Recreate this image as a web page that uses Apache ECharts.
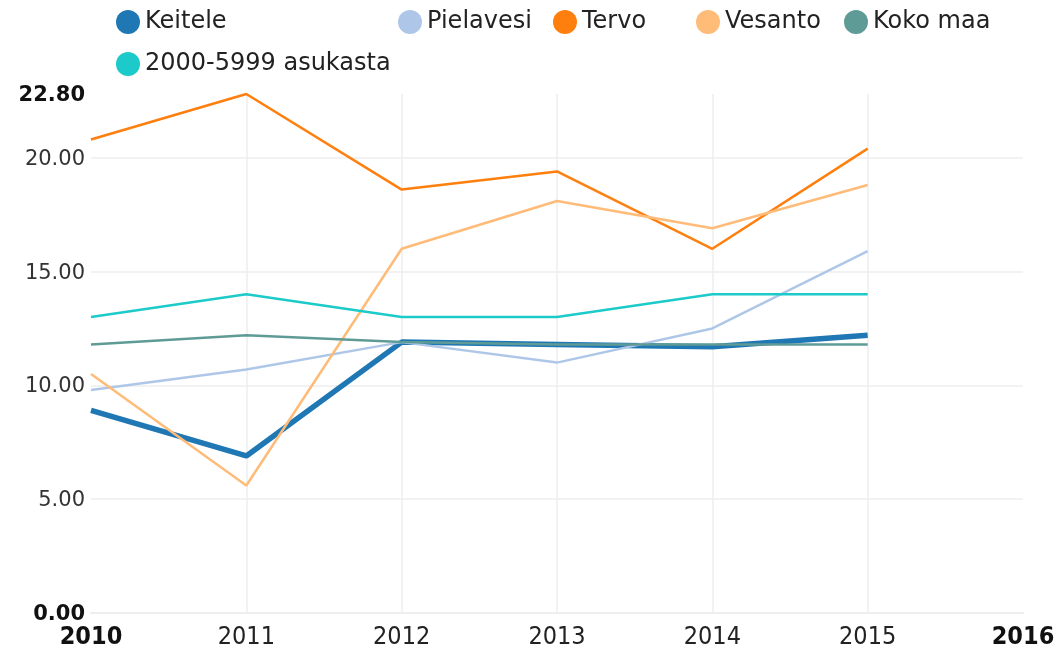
<!DOCTYPE html>
<html><head><meta charset="utf-8">
<script src="https://cdn.jsdelivr.net/npm/echarts@6/dist/echarts.min.js"></script>
<style>html,body{margin:0;padding:0;background:#fff}#c{width:1059px;height:650px}</style>
</head><body><div id="c"></div>
<script>
const years = [2010, 2011, 2012, 2013, 2014, 2015];
const seriesNames = ["Keitele", "Pielavesi", "Tervo", "Vesanto", "Koko maa", "2000-5999 asukasta"];
const keitele = [8.9, 6.9, 11.9, 11.8, 11.7, 12.2];
const pielavesi = [9.8, 10.7, 11.9, 11.0, 12.5, 15.9];
const tervo = [20.8, 22.8, 18.6, 19.4, 16.0, 20.4];
const vesanto = [10.5, 5.6, 16.0, 18.1, 16.9, 18.8];
const kokoMaa = [11.8, 12.2, 11.9, 11.8, 11.8, 11.8];
const asukasta = [13.0, 14.0, 13.0, 13.0, 14.0, 14.0];
const yTicks = [0, 5, 10, 15, 20, 22.8];
const xTicks = [2010, 2011, 2012, 2013, 2014, 2015, 2016];

const values = [keitele, pielavesi, tervo, vesanto, kokoMaa, asukasta];
const colors = ["#1f77b4", "#aec7e8", "#ff7f0e", "#ffbb78", "#5f9b96", "#1ccaca"];
const widths = [5.5, 2.5, 2.5, 2.5, 2.5, 2.5];
const legendPos = [[116, 10], [398, 10], [553, 10], [696, 10], [844, 10], [116, 52]];

const grid = '#eeeeee';
const xSplit = xTicks.map((v, i) => (i === 0 || i === xTicks.length - 1) ? 'rgba(0,0,0,0)' : grid);
const ySplit = yTicks.map((v, i) => (i === yTicks.length - 1) ? 'rgba(0,0,0,0)' : grid);

const chart = echarts.init(document.getElementById('c'));
const font = "'DejaVu Sans', sans-serif";
const condensed = "'DejaVu Sans Condensed', 'DejaVu Sans', sans-serif";
chart.setOption({
  animation: false,
  backgroundColor: '#fff',
  legend: seriesNames.map((n, i) => ({
    data: [n], left: legendPos[i][0], top: legendPos[i][1],
    icon: 'circle', itemWidth: 24, itemHeight: 24, padding: 0,
    textStyle: { fontFamily: font, fontSize: 24, color: '#222' }
  })),
  grid: { left: 91, right: 36, top: 94, bottom: 37 },
  xAxis: {
    type: 'value', min: 2010, max: 2016, interval: 1,
    axisLine: { show: true, lineStyle: { color: grid, width: 2 } },
    axisTick: { show: false },
    splitLine: { show: true, lineStyle: { color: xSplit, width: 1.5 } },
    axisLabel: {
      margin: 12,
      fontFamily: condensed, fontSize: 25, color: '#222',
      formatter: v => (v === xTicks[0] || v === xTicks[xTicks.length - 1]) ? '{b|' + v + '}' : String(v),
      rich: { b: { fontWeight: 'bold', fontSize: 25, color: '#111', fontFamily: condensed } }
    }
  },
  yAxis: {
    type: 'value', min: 0, max: 22.8, interval: 5,
    axisLine: { show: false }, axisTick: { show: false },
    splitLine: { show: true, lineStyle: { color: ySplit, width: 1.5 } },
    axisLabel: {
      margin: 6, padding: [3, 0, 0, 0],
      fontFamily: font, fontSize: 21, color: '#333',
      formatter: v => (v === yTicks[0] || v === yTicks[yTicks.length - 1]) ? '{b|' + v.toFixed(2) + '}' : v.toFixed(2),
      rich: { b: { fontWeight: 'bold', fontSize: 21, color: '#111', fontFamily: font } }
    }
  },
  series: seriesNames.map((n, i) => ({
    name: n, type: 'line', symbol: 'none',
    color: colors[i],
    lineStyle: { color: colors[i], width: widths[i] },
    data: years.map((y, j) => [y, values[i][j]])
  }))
});
</script></body></html>
